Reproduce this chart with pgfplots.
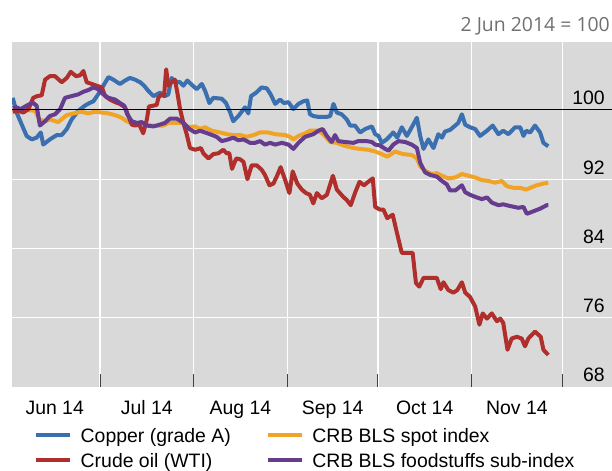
\documentclass[border=0pt]{standalone}
\usepackage{pgfplots}
\pgfplotsset{compat=1.18}
\usepackage{fontspec}
\setmainfont{Liberation Sans}
\newfontfamily\osans{Open Sans}
\definecolor{bgray}{HTML}{D9D9D9}
\definecolor{cblue}{HTML}{3A6FB0}
\definecolor{cred}{HTML}{B02F2C}
\definecolor{cyellow}{HTML}{F0A324}
\definecolor{cpurple}{HTML}{663C8E}
\definecolor{notegray}{HTML}{707070}
\newcommand{\bigf}{\fontsize{19.5}{23}\selectfont}
\begin{document}
\bigf
\begin{tikzpicture}
\useasboundingbox (0,0) rectangle (612bp,471bp);
\begin{axis}[
  at={(12bp,84bp)}, anchor=south west,
  scale only axis, width=600bp, height=345bp,
  xmin=0.86, xmax=199.5, ymin=68, ymax=107.85,
  axis background/.style={fill=bgray},
  axis line style={draw=none},
  /pgf/number format/assume math mode=true,
  tick label style={font=\bigf},
  xtick={30,61,92,122,153,183}, xticklabels={},
  xtick pos=lower,
  tick align=inside,
  major tick length=13bp,
  x tick style={color=black!75, line width=1bp},
  y tick style={draw=none},
  ytick={76,84,92},
  extra y ticks={68,100},
  extra y tick style={grid=none},
  yticklabel pos=right,
  yticklabel style={anchor=base east, inner sep=0pt, xshift=-7bp, yshift=5bp},
  extra x ticks={15,45.5,76.5,107,137.5,168},
  extra x tick labels={Jun 14,Jul 14,Aug 14,Sep 14,Oct 14,Nov 14},
  extra x tick style={grid=none, major tick length=0pt, xticklabel style={yshift=-7bp}},
  xmajorgrids, ymajorgrids,
  grid style={white, line width=1.3bp},
  legend columns=2,
  legend cell align=left,
  legend style={at={(axis description cs:0.0367,-0.1087)}, anchor=north west,
    draw=none, fill=none, inner sep=0pt, font=\bigf,
    nodes={inner xsep=0pt, inner ysep=3.5bp, text height=14bp, text depth=4bp},
    /tikz/every odd column/.append style={column sep=9bp},
    /tikz/every even column/.append style={column sep=35bp}},
  legend image code/.code={\draw[line width=3.5bp] (0bp,2bp) -- (34bp,2bp);},
  every axis plot/.append style={line width=4bp, line join=round, mark=none},
]
\addplot[cblue] coordinates {
(1.1,101.4) (2.4,99.7) (4.1,98.3) (5.7,97.0) (7.4,96.6) (9.0,96.8) (10.4,97.4) (11.2,96.0)
(13.4,96.6) (15.7,97.1) (17.3,97.1) (19.0,97.8) (20.6,98.9) (22.8,99.9) (25.0,100.5) (26.5,100.8)
(27.8,101.0) (29.4,101.8) (31.1,102.8) (32.8,103.8) (34.4,103.5) (36.6,103.0) (38.3,103.4) (39.9,103.7)
(41.6,103.5) (43.3,103.2) (44.6,102.8) (46.0,102.2) (47.7,101.6) (49.9,102.0) (51.5,101.6) (52.6,101.8)
(53.7,103.7) (54.8,103.3) (56.5,103.2) (57.6,102.8) (58.9,103.4) (60.4,102.9) (62.0,102.4) (63.7,103.0)
(64.8,102.2) (66.2,100.8) (67.5,101.4) (70.3,101.3) (71.7,100.8) (73.1,99.7) (74.1,98.7) (75.8,99.3)
(78.0,100.3) (79.1,99.6) (80.0,101.6) (81.7,102.0) (83.5,102.6) (85.2,102.5) (86.5,101.8) (88.0,100.7)
(89.6,101.2) (90.9,100.8) (92.4,100.9) (94.0,100.1) (95.7,100.7) (97.3,101.0) (98.6,101.1) (99.5,99.5)
(100.6,99.3) (102.3,99.2) (105.1,99.2) (106.2,99.3) (107.3,100.7) (108.4,99.7) (110.0,99.5) (111.7,98.9)
(112.8,98.2) (114.4,98.2) (116.1,97.4) (117.8,97.8) (120.0,98.1) (121.1,97.2) (122.2,97.0) (123.3,96.2)
(124.9,96.6) (127.1,97.4) (128.4,96.8) (129.9,98.0) (131.6,97.0) (133.2,98.0) (134.9,99.1) (136.0,97.0)
(137.1,95.5) (138.7,96.6) (140.4,95.6) (142.0,97.2) (143.2,96.8) (144.2,97.5) (145.9,97.7) (147.6,98.2)
(148.6,98.5) (149.8,99.5) (150.9,98.3) (152.5,98.0) (154.2,97.8) (155.8,97.0) (158.1,97.6) (160.0,98.2)
(161.9,97.2) (163.5,97.6) (165.2,97.2) (167.4,98.0) (169.1,98.0) (170.2,97.0) (171.1,97.6) (172.4,97.4)
(174.0,98.2) (175.7,97.4) (176.8,96.2) (178.4,95.8)
};
\addlegendentry{Copper (grade A)}
\addplot[cyellow] coordinates {
(1.1,100.1) (3.0,100.0) (5.7,100.0) (8.5,99.9) (9.9,98.9) (11.8,98.7) (13.4,98.9) (16.2,98.6)
(17.9,99.1) (19.0,99.4) (21.2,99.6) (23.9,99.8) (26.1,99.6) (28.3,99.8) (30.6,99.7) (32.8,99.6)
(35.0,99.4) (37.2,99.1) (38.8,98.7) (40.5,98.5) (42.7,98.5) (44.9,98.3) (47.1,98.2) (48.8,98.2)
(51.0,98.2) (52.6,98.5) (55.4,98.5) (57.6,98.5) (59.2,98.0) (61.5,98.1) (63.1,97.8) (64.8,98.0)
(67.0,97.6) (69.7,97.4) (72.0,97.2) (74.1,97.1) (76.4,97.1) (78.6,96.9) (80.8,97.1) (83.0,97.4)
(85.7,97.4) (88.0,97.2) (91.3,97.1) (92.9,96.9) (94.0,96.6) (95.7,97.0) (97.9,97.3) (99.5,97.6)
(102.3,97.6) (103.9,97.2) (106.2,96.3) (108.4,96.2) (110.6,95.9) (113.9,95.6) (116.1,95.5) (118.8,95.4)
(121.1,95.2) (123.3,94.9) (125.1,94.6) (127.7,95.2) (130.4,94.9) (133.2,94.8) (134.9,94.4) (136.0,93.5)
(137.6,93.0) (139.8,92.6) (141.5,92.7) (143.2,92.4) (145.3,92.1) (147.6,92.2) (149.8,92.6) (152.0,92.4)
(154.2,92.2) (156.4,91.9) (158.6,91.8) (160.8,91.6) (163.0,91.8) (164.7,91.2) (166.9,91.0) (169.1,91.0)
(171.1,90.8) (172.4,91.0) (174.6,91.3) (176.8,91.5) (178.4,91.6)
};
\addlegendentry{CRB BLS spot index}
\addplot[cred] coordinates {
(1.1,99.8) (3.0,99.9) (4.6,99.7) (6.3,100.1) (7.9,101.4) (9.2,101.6) (10.7,101.7) (11.8,103.5)
(13.4,103.9) (15.1,103.9) (17.3,103.2) (19.0,103.7) (20.3,104.4) (22.1,103.9) (23.4,104.0) (24.5,104.5)
(25.6,103.2) (27.3,103.0) (28.9,102.8) (30.6,102.6) (31.7,101.6) (33.3,101.2) (35.0,100.9) (36.6,100.7)
(38.3,100.3) (39.4,99.3) (40.5,98.3) (41.6,98.2) (43.0,98.3) (44.3,97.3) (45.5,98.9) (46.2,100.4)
(47.7,100.5) (48.8,100.6) (49.3,101.4) (50.4,101.8) (51.2,101.6) (51.9,104.7) (52.6,102.8) (53.7,103.2)
(54.8,103.5) (55.6,102.0) (56.5,100.1) (57.6,98.5) (58.7,97.2) (59.8,95.6) (61.5,95.4) (63.4,95.6)
(64.2,95.0) (65.9,94.4) (67.5,94.9) (69.2,95.0) (70.8,95.4) (71.9,95.0) (72.8,95.0) (73.7,93.2)
(75.1,94.4) (76.4,94.3) (77.5,94.0) (78.8,92.0) (80.2,93.6) (81.9,93.6) (83.5,93.1) (84.6,92.5)
(86.1,91.3) (87.4,91.5) (88.5,92.3) (89.8,93.4) (91.3,91.9) (92.7,90.4) (93.8,92.9) (95.3,91.5)
(96.8,90.8) (98.2,90.4) (99.5,90.2) (100.6,89.2) (101.8,90.4) (103.4,89.8) (105.1,90.2) (107.1,92.4)
(108.4,90.8) (110.4,90.0) (111.7,89.6) (113.0,89.0) (114.4,90.4) (115.9,91.7) (117.4,91.3) (118.8,91.7)
(120.3,92.1) (121.1,88.8) (122.6,88.5) (123.8,88.5) (125.1,87.5) (126.9,87.9) (128.3,85.8) (129.9,83.5)
(131.6,83.5) (133.5,83.5) (134.6,80.0) (135.7,79.6) (137.1,80.6) (139.3,80.6) (141.5,80.6) (142.8,79.3)
(143.7,80.1) (145.3,79.2) (147.0,78.9) (148.3,79.2) (149.8,80.1) (150.9,78.9) (152.5,78.4) (154.2,77.3)
(155.6,75.2) (156.7,76.5) (158.1,75.9) (159.7,76.5) (161.4,75.6) (162.5,75.9) (163.5,75.4) (164.9,72.3)
(166.3,73.6) (168.0,73.8) (169.6,73.6) (170.7,72.7) (171.8,73.6) (174.0,74.4) (175.9,73.8) (176.8,72.3)
(178.4,71.7)
};
\addlegendentry{Crude oil (WTI)}
\addplot[cpurple] coordinates {
(1.1,100.2) (2.4,100.3) (3.7,100.1) (5.2,100.4) (6.8,100.7) (7.9,100.8) (9.0,100.5) (10.1,98.2)
(11.8,98.7) (13.4,99.3) (15.1,99.5) (16.8,100.1) (18.4,101.4) (20.6,101.6) (22.8,101.8) (24.5,102.1)
(26.1,102.3) (27.8,102.6) (29.4,102.4) (31.1,101.8) (32.8,101.4) (35.0,101.2) (36.6,100.8) (38.0,100.5)
(39.0,99.5) (40.5,98.7) (42.2,98.5) (43.8,98.6) (45.5,98.2) (47.6,98.1) (48.8,98.2) (51.5,98.5)
(53.2,99.0) (55.4,99.0) (57.6,98.5) (59.6,97.8) (61.5,97.4) (63.1,97.6) (64.8,97.4) (66.4,97.2)
(68.6,96.9) (70.3,96.4) (72.5,96.6) (74.1,96.8) (75.8,96.5) (77.5,96.6) (79.7,96.2) (81.3,96.2)
(83.0,96.4) (84.6,96.0) (86.3,96.2) (88.0,96.0) (90.2,96.2) (92.4,96.0) (94.0,95.5) (95.7,96.2)
(97.9,96.9) (100.6,97.2) (102.3,97.6) (103.7,97.8) (105.1,97.0) (106.7,96.3) (107.8,97.1) (108.9,96.4)
(111.1,96.3) (113.9,96.2) (115.5,96.4) (118.3,96.4) (120.0,96.3) (121.1,96.0) (122.7,95.9) (124.4,95.5)
(125.5,95.3) (127.1,96.0) (128.8,96.4) (131.0,96.3) (133.2,96.0) (134.9,95.6) (136.0,93.9) (137.6,92.8)
(139.3,92.5) (141.5,92.3) (143.2,91.8) (144.8,91.4) (145.9,90.7) (147.6,90.7) (149.8,91.3) (150.9,90.5)
(152.5,90.2) (154.7,89.9) (156.4,89.7) (158.1,89.9) (159.7,89.3) (161.9,89.0) (163.5,89.1) (165.8,88.9)
(168.5,88.7) (170.2,88.8) (171.3,88.0) (173.5,88.3) (175.7,88.6) (177.9,89.0) (178.4,89.0)
};
\addlegendentry{CRB BLS foodstuffs sub-index}
\addplot[black, line width=1bp, forget plot] coordinates {(0.86,100) (199.5,100)};
\end{axis}
\node[anchor=base east, font=\osans\bigf, text=notegray, inner sep=0pt] at (610bp,439bp) {2 Jun 2014 = 100};
\end{tikzpicture}
\end{document}
